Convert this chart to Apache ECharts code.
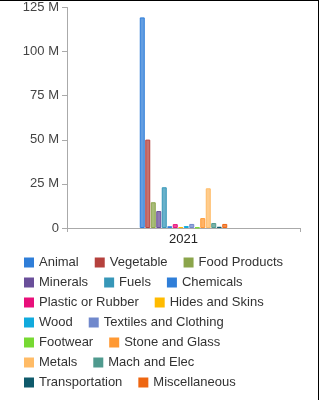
<!DOCTYPE html>
<html>
<head>
<meta charset="utf-8">
<script src="https://cdn.jsdelivr.net/npm/echarts@6/dist/echarts.min.js"></script>
<style>
  html, body { margin: 0; padding: 0; background: #fff; }
  #grafico { width: 318px; height: 399px; border-top: 1px solid #000; border-right: 1px solid #000; border-bottom: 1px solid #000; }
</style>
</head>
<body>
<div id="grafico"></div>
<script>
// Categoria do eixo x
const anos = ["2021"];

// Nomes das séries (setores)
const setores = [
    "Animal", "Vegetable", "Food Products", "Minerals", "Fuels", "Chemicals",
    "Plastic or Rubber", "Hides and Skins", "Wood", "Textiles and Clothing",
    "Footwear", "Stone and Glass", "Metals", "Mach and Elec", "Transportation", "Miscellaneous"
];

// Valores (em unidades)
const valores = [
    119.4e6, 50.1e6, 14.6e6, 9.6e6, 23.1e6, 1.0e6,
    2.2e6, 0.5e6, 1.1e6, 2.3e6,
    0.3e6, 5.6e6, 22.5e6, 2.8e6, 0.7e6, 2.3e6
];

// Cores de cada setor
const cores = [
    "#2f7ed8", "#b5413d", "#8ba54b", "#6a4f9a", "#3797b8", "#2f7ed8",
    "#e8107a", "#ffbb00", "#11aadd", "#7088cc",
    "#77d933", "#ff9933", "#ffbb66", "#4f9a8e", "#0f5a6b", "#ee6611"
];

// Quantos itens da legenda em cada linha
const itensPorLinha = [3, 3, 2, 2, 2, 2, 2];

// Clareia uma cor hex para o preenchimento da barra
function clarear(hex, f) {
    const n = parseInt(hex.slice(1), 16);
    const r = (n >> 16) & 255, g = (n >> 8) & 255, b = n & 255;
    const c = v => Math.round(v + (255 - v) * f);
    return `rgb(${c(r)},${c(g)},${c(b)})`;
}

const fonte = 'Liberation Sans, Arial';

const series = setores.map((nome, i) => ({
    type: 'bar',
    name: nome,
    data: [valores[i]],
    barWidth: 5,
    barGap: '10%',
    itemStyle: {
        color: clarear(cores[i], 0.25),
        borderColor: cores[i],
        borderWidth: 1
    }
}));

// Uma legenda por linha, para quebrar igual ao original
const legendas = [];
let inicio = 0;
itensPorLinha.forEach((qtd, linha) => {
    const nomes = setores.slice(inicio, inicio + qtd);
    legendas.push({
        left: 19,
        top: 250 + linha * 20,
        icon: 'rect',
        itemWidth: 10,
        itemHeight: 10,
        itemGap: 16,
        data: nomes.map((n, k) => ({
            name: n,
            itemStyle: { color: cores[inicio + k], borderWidth: 0 }
        })),
        textStyle: { fontFamily: fonte, fontSize: 13, color: '#333' }
    });
    inicio += qtd;
});

const chart = echarts.init(document.getElementById('grafico'));
chart.setOption({
    animation: false,
    grid: { left: 67, right: 18, top: 5, bottom: 172 },
    legend: legendas,
    xAxis: {
        type: 'category',
        data: anos,
        axisLine: { lineStyle: { color: '#aaa' } },
        axisTick: { show: true, length: 4, lineStyle: { color: '#aaa' } },
        axisLabel: { fontFamily: fonte, fontSize: 13, color: '#222', margin: 5 }
    },
    yAxis: {
        type: 'value',
        min: 0,
        max: 125e6,
        interval: 25e6,
        axisLine: { show: true, lineStyle: { color: '#aaa' } },
        axisTick: { show: true, length: 5, lineStyle: { color: '#aaa' } },
        splitLine: { show: false },
        axisLabel: {
            fontFamily: fonte,
            fontSize: 13,
            color: '#444',
            margin: 8,
            formatter: v => v === 0 ? '0' : (v / 1e6) + ' M'
        }
    },
    series
});
</script>
</body>
</html>
